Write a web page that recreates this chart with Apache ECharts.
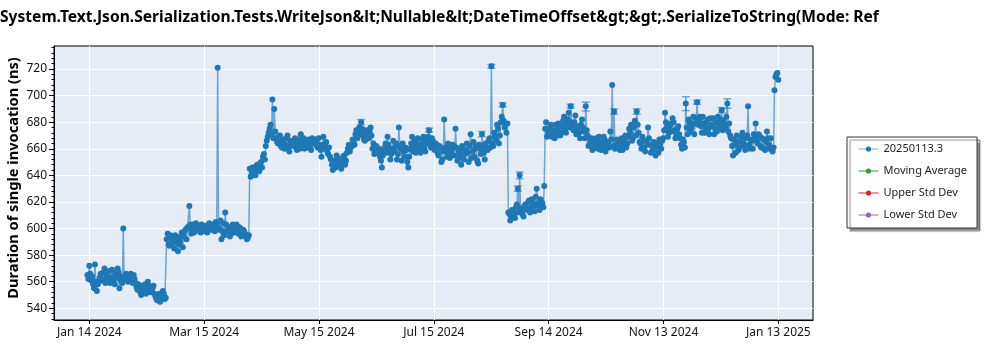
<!DOCTYPE html>
<html>
<head>
<meta charset="utf-8">
<script src="https://cdn.jsdelivr.net/npm/echarts@6/dist/echarts.min.js"></script>
<style>
  html, body { margin: 0; padding: 0; background: #fff; }
  #chart { width: 1000px; height: 350px; }
</style>
</head>
<body>
<div id="chart"></div>
<script>
const titleText = 'System.Text.Json.Serialization.Tests.WriteJson&lt;Nullable&lt;DateTimeOffset&gt;&gt;.SerializeToString(Mode: Ref';
const yAxisTitle = 'Duration of single invocation (ns)';
const seriesNames = ['20250113.3', 'Moving Average', 'Upper Std Dev', 'Lower Std Dev'];
const seriesColors = ['#1f77b4', '#2ca02c', '#d62728', '#9467bd'];

const xTickLabels = ['Jan 14 2024', 'Mar 15 2024', 'May 15 2024', 'Jul 15 2024', 'Sep 14 2024', 'Nov 13 2024', 'Jan 13 2025'];
const yTickValues = [540, 560, 580, 600, 620, 640, 660, 680, 700, 720];
const yMinorTickValues = [532, 536, 544, 548, 552, 556, 564, 568, 572, 576, 584, 588, 592, 596, 604, 608, 612, 616,
  624, 628, 632, 636, 644, 648, 652, 656, 664, 668, 672, 676, 684, 688, 692, 696, 704, 708, 712, 716, 724, 728, 732, 736];

// Run durations (ns). Each month has an evening run list (18:00, starting on the date in
// monthStarts) and a list of the following morning's run (06:00 the next day).
const monthStarts = ['2024-01-13', '2024-02-01', '2024-03-01', '2024-04-01', '2024-05-01', '2024-06-01', '2024-07-01',
  '2024-08-01', '2024-09-01', '2024-10-01', '2024-11-01', '2024-12-01', '2025-01-01'];

const jan2024 = [565, 572, 561, 558, 573, 553, 560, 566, 562, 570, 565, 563, 559, 569, 561, 566, 570, 555, 564];
const jan2024b = [562, 566, 564, 555, 560, 558, 563, 561, 567, 559, 562, 568, 560, 564, 558, 563, 567, 561, 559];
const feb2024 = [600, 563, 565, 561, 566, 559, 562, 556, 558, 552, 557, 555, 551, 560, 556, 553, 557, 549, 546, 551,
  548, 553, 547, 592, 588, 595, 590, 585, 593];
const feb2024b = [562, 566, 560, 564, 561, 565, 559, 554, 556, 550, 553, 558, 554, 557, 552, 555, 551, 547, 550, 545,
  549, 551, 548, 596, 587, 593, 589, 595, 591];
const mar2024 = [583, 590, 597, 594, 599, 601, 617, 596, 603, 598, 602, 600, 597, 601, 598, 599, 602, 600, 603, 601,
  605, 721, 600, 592, 604, 612, 598, 601, 596, 603, 599];
const mar2024b = [588, 594, 586, 598, 592, 600, 603, 599, 597, 604, 601, 598, 603, 600, 602, 597, 604, 599, 602, 598,
  603, 599, 606, 598, 595, 603, 600, 594, 599, 597, 601];
const apr2024 = [603, 596, 600, 595, 598, 594, 593, 645, 641, 644, 640, 648, 643, 650, 654, 652, 666, 672, 678, 697,
  690, 668, 664, 670, 661, 667, 663, 670, 658, 664];
const apr2024b = [597, 601, 594, 599, 596, 592, 595, 639, 646, 642, 647, 644, 649, 646, 656, 662, 669, 675, 671, 668,
  673, 665, 669, 662, 666, 660, 668, 661, 666, 663];
const may2024 = [662, 668, 659, 664, 671, 663, 660, 665, 667, 662, 668, 664, 666, 661, 663, 654, 669, 662, 658, 661,
  652, 644, 650, 655, 647, 652, 649, 655, 651, 660, 658];
const may2024b = [665, 661, 667, 660, 666, 668, 663, 661, 664, 659, 665, 667, 662, 668, 659, 663, 660, 665, 656, 654,
  648, 651, 646, 653, 650, 645, 654, 648, 657, 663, 661];
const jun2024 = [662, 665, 671, 668, 676, 680, 670, 666, 674, 668, 676, 660, 656, 662, 658, 654, 646, 658, 664, 669,
  660, 656, 666, 661, 652, 676, 660, 664, 654, 659];
const jun2024b = [667, 663, 674, 670, 672, 675, 667, 672, 669, 673, 670, 664, 659, 657, 660, 651, 655, 661, 657, 663,
  652, 660, 658, 664, 656, 662, 651, 658, 661, 650];
const jul2024 = [646, 660, 669, 662, 657, 668, 660, 664, 669, 658, 665, 674, 661, 666, 659, 663, 655, 661, 652, 682,
  658, 664, 653, 659, 662, 675, 651, 657, 648, 660, 656];
const jul2024b = [654, 664, 658, 666, 661, 663, 657, 667, 661, 665, 669, 663, 668, 660, 664, 657, 662, 650, 658, 661,
  654, 660, 657, 663, 655, 661, 659, 654, 662, 652, 659];
const aug2024 = [664, 650, 671, 658, 654, 662, 649, 660, 671, 657, 664, 659, 668, 722, 662, 669, 678, 664, 680, 693,
  676, 672, 612, 606, 614, 610, 616, 630, 640, 612, 609];
const aug2024b = [657, 662, 653, 665, 660, 651, 663, 656, 662, 652, 660, 666, 661, 664, 672, 666, 675, 670, 684, 681,
  678, 679, 611, 609, 613, 608, 618, 612, 615, 611, 617];
const sep2024 = [618, 614, 621, 616, 619, 613, 630, 617, 622, 619, 632, 680, 671, 676, 669, 674, 678, 670, 676, 672,
  681, 674, 678, 687, 692, 676, 680, 671, 677, 668];
const sep2024b = [615, 620, 612, 622, 617, 624, 619, 614, 620, 616, 675, 669, 673, 678, 671, 668, 674, 679, 670, 677,
  684, 672, 682, 676, 680, 674, 685, 675, 672, 678];
const oct2024 = [682, 673, 692, 670, 664, 668, 660, 666, 662, 669, 659, 664, 667, 661, 665, 673, 708, 688, 663, 666,
  659, 668, 662, 670, 664, 675, 678, 668, 681, 688, 672];
const oct2024b = [676, 668, 674, 662, 667, 659, 664, 668, 660, 665, 662, 669, 658, 664, 661, 667, 662, 660, 667, 662,
  665, 659, 666, 661, 669, 672, 666, 676, 670, 678, 665];
const nov2024 = [664, 669, 661, 666, 676, 663, 658, 665, 655, 662, 667, 660, 668, 687, 676, 672, 679, 683, 674, 670,
  677, 668, 660, 665, 694, 671, 680, 676, 684, 679];
const nov2024b = [660, 666, 658, 663, 668, 657, 662, 660, 664, 657, 663, 666, 674, 680, 669, 677, 673, 680, 668, 675,
  671, 663, 667, 661, 676, 682, 673, 679, 671, 683];
const dec2024 = [695, 681, 677, 684, 672, 680, 675, 683, 678, 671, 680, 684, 676, 689, 681, 676, 694, 679, 668, 655,
  663, 670, 659, 666, 672, 662, 668, 692, 660, 666, 671];
const dec2024b = [678, 684, 672, 679, 676, 682, 671, 677, 683, 675, 673, 679, 682, 674, 678, 684, 673, 670, 662, 667,
  657, 665, 661, 669, 664, 659, 670, 663, 667, 660, 668];
const jan2025 = [679, 664, 670, 661, 667, 659, 673, 663, 668, 658, 704, 716, 712];
const jan2025b = [666, 671, 662, 668, 660, 665, 668, 660, 659, 661, 714, 717];

const eveningRuns = [jan2024, feb2024, mar2024, apr2024, may2024, jun2024, jul2024, aug2024, sep2024, oct2024,
  nov2024, dec2024, jan2025];
const morningRuns = [jan2024b, feb2024b, mar2024b, apr2024b, may2024b, jun2024b, jul2024b, aug2024b, sep2024b,
  oct2024b, nov2024b, dec2024b, jan2025b];

// Spread of individual runs: [date of evening run, low, high]
const errorBars = [
  ['2024-06-06', 678, 682],
  ['2024-07-12', 672.5, 675.5],
  ['2024-08-09', 669, 673],
  ['2024-08-14', 720.5, 723.5],
  ['2024-08-20', 691.5, 694.5],
  ['2024-08-28', 628, 632],
  ['2024-08-29', 637.5, 642.5],
  ['2024-09-25', 690.5, 693.5],
  ['2024-10-03', 688.5, 695],
  ['2024-10-18', 686, 690],
  ['2024-10-30', 686, 690],
  ['2024-11-25', 688.7, 699.2],
  ['2024-12-01', 693.5, 696.5],
  ['2024-12-14', 687, 691],
  ['2024-12-17', 690.5, 697.5]
];

const DAY = 86400000;
const HALF_DAY = DAY / 2;
const toTime = s => { const [y, m, d] = s.split('-').map(Number); return Date.UTC(y, m - 1, d, 18); };

const points = [];
eveningRuns.forEach((vals, k) => {
  const t0 = toTime(monthStarts[k]);
  const next = morningRuns[k];
  vals.forEach((v, i) => {
    points.push([t0 + i * DAY, v]);
    if (i < next.length) points.push([t0 + i * DAY + HALF_DAY, next[i]]);
  });
});
const barData = errorBars.map(([d, lo, hi]) => [toTime(d), lo, hi]);

// x axis: seven evenly spaced date ticks across one year
const tick0 = toTime('2024-01-14');
const tickStep = 365 / 6 * DAY;
const xTickValues = xTickLabels.map((_, i) => tick0 + i * tickStep);
const xMin = tick0 - 18.7 * DAY;
const xMax = tick0 + 365 * DAY + 18.38 * DAY;

const FONT = "'Noto Sans', 'Open Sans', sans-serif";
const chart = echarts.init(document.getElementById('chart'), null, { renderer: 'canvas' });

const emptySeries = (name, color) => ({
  name, type: 'line', data: [], symbol: 'circle', symbolSize: 6,
  itemStyle: { color }, lineStyle: { color, width: 1 }
});

chart.setOption({
  animation: false,
  textStyle: { fontFamily: FONT },
  graphic: [
    {
      type: 'text', left: 0, top: 10,
      style: { text: titleText, font: "bold 15.6px " + FONT, fill: '#000' }
    },
    {
      type: 'text', x: 14, y: 178, rotation: Math.PI / 2,
      style: { text: yAxisTitle, font: "bold 14.6px " + FONT, fill: '#000', align: 'center', verticalAlign: 'middle' }
    }
  ],
  grid: {
    left: 54, right: 187, top: 46, bottom: 30,
    show: true, backgroundColor: '#E5ECF6', borderColor: '#000', borderWidth: 1
  },
  legend: {
    orient: 'vertical', left: 847, top: 137,
    padding: [6.5, 10, 7.5, 11],
    itemWidth: 20, itemHeight: 6.5, itemGap: 11,
    lineStyle: { width: 1 },
    backgroundColor: '#fff', borderColor: '#333', borderWidth: 1,
    shadowColor: 'rgba(0,0,0,0.45)', shadowOffsetX: 3, shadowOffsetY: 3, shadowBlur: 1,
    textStyle: { fontSize: 11, color: '#222', fontFamily: FONT },
    data: seriesNames
  },
  xAxis: {
    type: 'value', min: xMin, max: xMax,
    axisLine: { show: true, onZero: false, lineStyle: { color: '#000', width: 1 } },
    axisTick: { show: true, customValues: xTickValues, length: 4, lineStyle: { color: '#000' } },
    axisLabel: {
      customValues: xTickValues, margin: 7, fontSize: 12, color: '#111', fontFamily: FONT,
      formatter: v => {
        let best = 0;
        xTickValues.forEach((t, i) => { if (Math.abs(t - v) < Math.abs(xTickValues[best] - v)) best = i; });
        return xTickLabels[best];
      }
    },
    splitLine: { show: true, lineStyle: { color: '#fff', width: 1 } }
  },
  yAxis: [
    {
      type: 'value', min: 531.2, max: 737.3,
      axisLine: { show: true, lineStyle: { color: '#000', width: 1 } },
      axisTick: { show: true, customValues: yTickValues, length: 5, lineStyle: { color: '#000' } },
      axisLabel: { customValues: yTickValues, margin: 7, fontSize: 12, color: '#111', fontFamily: FONT },
      splitLine: { show: true, lineStyle: { color: '#fff', width: 1 } }
    },
    {
      type: 'value', min: 531.2, max: 737.3, position: 'left',
      axisLine: { show: false },
      axisTick: { show: true, customValues: yMinorTickValues, length: 2.5, lineStyle: { color: '#000' } },
      axisLabel: { show: false },
      splitLine: { show: false }
    }
  ],
  series: [
    {
      name: seriesNames[0], type: 'line', data: points,
      symbol: 'circle', symbolSize: 6, showAllSymbol: true,
      itemStyle: { color: seriesColors[0] },
      lineStyle: { color: seriesColors[0], width: 1.5, opacity: 0.6 },
      z: 3
    },
    {
      type: 'custom', data: barData, z: 4,
      encode: { x: 0, y: [1, 2] },
      renderItem: (params, api) => {
        const x = api.value(0);
        const top = api.coord([x, api.value(2)]);
        const bot = api.coord([x, api.value(1)]);
        const hw = 4;
        const style = { stroke: seriesColors[0], lineWidth: 1.5, opacity: 0.6 };
        return {
          type: 'group', children: [
            { type: 'line', shape: { x1: top[0], y1: top[1], x2: bot[0], y2: bot[1] }, style },
            { type: 'line', shape: { x1: top[0] - hw, y1: top[1], x2: top[0] + hw, y2: top[1] }, style },
            { type: 'line', shape: { x1: bot[0] - hw, y1: bot[1], x2: bot[0] + hw, y2: bot[1] }, style }
          ]
        };
      }
    },
    emptySeries(seriesNames[1], seriesColors[1]),
    emptySeries(seriesNames[2], seriesColors[2]),
    emptySeries(seriesNames[3], seriesColors[3])
  ]
});
</script>
</body>
</html>
